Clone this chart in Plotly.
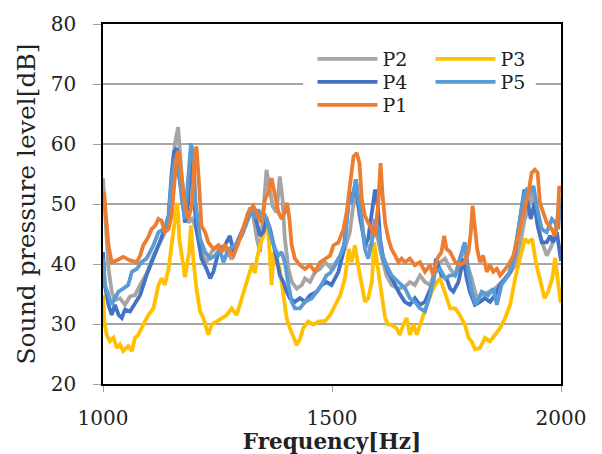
import plotly.graph_objects as go

# ---------------- data ----------------
freq_p2 = [1000, 1003, 1007, 1012, 1019, 1026, 1037, 1048, 1059, 1070, 1081, 1095, 1110, 1121, 1132, 1143,
           1150, 1157, 1164, 1172, 1179, 1186, 1194, 1201, 1212, 1219, 1226, 1237, 1252, 1266, 1281, 1296,
           1310, 1321, 1328, 1336, 1343, 1350, 1357, 1363, 1370, 1379, 1386, 1392, 1397, 1405, 1412, 1423,
           1434, 1441, 1452, 1463, 1474, 1485, 1499, 1514, 1528, 1539, 1547, 1554, 1561, 1572, 1583, 1592,
           1600, 1608, 1619, 1630, 1645, 1659, 1670, 1681, 1692, 1703, 1714, 1725, 1736, 1747, 1758, 1769,
           1779, 1787, 1794, 1805, 1816, 1827, 1841, 1856, 1870, 1885, 1900, 1910, 1921, 1929, 1936, 1943,
           1951, 1961, 1969, 1980, 1991, 1996, 2000]
spl_p2 = [54.3, 50.2, 44.7, 39.2, 35.4, 34.0, 34.3, 33.2, 34.6, 34.8, 36.5, 38.4, 41.4, 43.1, 44.7, 46.9,
          53.5, 60.1, 62.8, 54.6, 49.7, 46.9, 47.5, 46.4, 43.6, 41.4, 40.3, 42.0, 43.1, 42.5, 40.8, 43.6,
          46.4, 49.4, 48.0, 44.2, 42.0, 48.6, 55.7, 53.0, 49.7, 48.6, 54.6, 50.8, 44.2, 39.2, 37.0, 35.9,
          36.5, 37.6, 37.0, 38.7, 39.2, 40.3, 39.2, 40.9, 42.5, 45.3, 50.2, 51.3, 47.5, 43.6, 42.5, 45.8,
          44.2, 41.4, 38.1, 36.5, 35.9, 36.2, 37.0, 36.5, 38.1, 37.0, 36.5, 38.7, 40.3, 40.9, 39.2, 38.1,
          39.8, 43.1, 40.3, 37.6, 34.3, 34.8, 35.4, 35.9, 37.0, 38.1, 39.8, 43.1, 47.5, 49.1, 51.9, 48.6,
          45.8, 43.1, 41.4, 43.1, 46.9, 50.8, 51.0]

freq_p3 = [1000, 1003, 1008, 1015, 1023, 1030, 1037, 1044, 1055, 1063, 1070, 1077, 1088, 1099, 1110, 1121,
           1128, 1135, 1143, 1150, 1157, 1162, 1167, 1172, 1179, 1188, 1192, 1197, 1204, 1212, 1219, 1230,
           1237, 1248, 1259, 1270, 1281, 1292, 1303, 1314, 1325, 1332, 1336, 1343, 1350, 1357, 1363, 1368,
           1373, 1379, 1386, 1394, 1401, 1408, 1416, 1423, 1430, 1437, 1448, 1459, 1470, 1485, 1496, 1507,
           1518, 1528, 1537, 1543, 1550, 1557, 1565, 1572, 1579, 1587, 1592, 1600, 1608, 1616, 1623, 1630,
           1641, 1648, 1656, 1663, 1670, 1678, 1685, 1692, 1699, 1707, 1718, 1729, 1736, 1743, 1750, 1758,
           1769, 1779, 1790, 1798, 1805, 1812, 1823, 1834, 1845, 1856, 1867, 1878, 1889, 1900, 1910, 1921,
           1929, 1937, 1945, 1954, 1964, 1972, 1981, 1987, 1993, 1998, 2000]
spl_p3 = [34.8, 30.4, 28.2, 27.1, 27.7, 26.0, 26.6, 25.5, 26.3, 25.5, 27.7, 28.2, 29.9, 31.5, 32.6, 36.5,
          37.6, 36.5, 39.2, 43.6, 48.0, 50.2, 44.0, 41.4, 37.8, 42.0, 46.4, 40.9, 35.9, 32.1, 31.0, 28.2,
          29.9, 30.4, 31.0, 31.5, 32.6, 31.5, 34.3, 37.0, 39.8, 38.5, 40.9, 43.1, 44.7, 48.0, 43.1, 36.5,
          42.0, 40.9, 39.2, 34.8, 31.0, 29.3, 28.0, 26.5, 27.5, 29.3, 30.4, 29.9, 30.4, 30.5, 31.5, 33.2,
          34.8, 37.6, 42.5, 40.3, 43.1, 39.8, 36.5, 33.7, 34.3, 37.0, 43.6, 39.2, 34.3, 31.0, 29.9, 29.9,
          29.3, 28.2, 29.9, 31.0, 28.2, 29.9, 28.2, 29.9, 31.5, 33.2, 35.4, 37.0, 37.6, 35.9, 34.3, 32.6,
          32.6, 31.5, 29.9, 27.7, 27.1, 25.8, 26.0, 27.7, 27.1, 28.2, 29.3, 31.0, 33.2, 37.6, 40.9, 44.2,
          43.6, 44.2, 40.3, 37.6, 34.3, 35.4, 37.6, 41.0, 36.5, 34.3, 33.5]

freq_p4 = [1000, 1004, 1012, 1019, 1026, 1034, 1041, 1048, 1059, 1070, 1081, 1095, 1110, 1121, 1132, 1143,
           1150, 1155, 1161, 1164, 1172, 1179, 1186, 1192, 1197, 1204, 1215, 1226, 1234, 1241, 1252, 1266,
           1277, 1285, 1296, 1310, 1325, 1332, 1336, 1343, 1350, 1357, 1365, 1372, 1379, 1386, 1394, 1401,
           1408, 1419, 1430, 1441, 1452, 1467, 1477, 1488, 1499, 1514, 1525, 1532, 1539, 1547, 1552, 1557,
           1565, 1572, 1579, 1587, 1594, 1600, 1605, 1612, 1623, 1638, 1648, 1659, 1670, 1681, 1692, 1703,
           1714, 1721, 1727, 1732, 1739, 1750, 1758, 1765, 1776, 1787, 1794, 1801, 1812, 1823, 1834, 1845,
           1856, 1867, 1878, 1889, 1900, 1910, 1920, 1927, 1934, 1942, 1949, 1958, 1969, 1976, 1983, 1991,
           1996, 2000]
spl_p4 = [42.0, 36.5, 33.2, 31.5, 33.2, 31.5, 31.0, 32.4, 32.1, 33.5, 34.8, 38.1, 40.8, 43.1, 45.3, 48.0,
          55.2, 58.7, 59.3, 55.7, 51.9, 46.9, 50.2, 58.5, 53.0, 45.8, 40.9, 39.2, 37.6, 38.7, 42.0, 43.1,
          44.7, 42.0, 44.2, 46.4, 49.1, 48.0, 46.9, 44.7, 45.3, 47.5, 45.8, 43.6, 40.9, 38.1, 37.0, 35.4,
          34.3, 33.7, 34.3, 33.7, 34.8, 35.4, 36.5, 37.0, 36.5, 38.7, 42.0, 47.5, 51.9, 51.3, 54.1, 50.2,
          46.4, 43.1, 44.2, 48.6, 52.4, 49.7, 44.2, 40.9, 38.7, 36.5, 35.0, 33.7, 33.2, 34.3, 33.2, 33.7,
          35.9, 37.0, 40.9, 39.8, 38.1, 37.6, 35.9, 35.4, 37.0, 40.9, 37.6, 35.4, 33.2, 33.7, 34.3, 33.7,
          34.8, 36.5, 37.6, 38.7, 42.0, 47.5, 52.4, 50.2, 47.5, 50.2, 46.4, 43.6, 43.6, 44.7, 43.6, 45.3,
          42.0, 40.5]

freq_p5 = [1000, 1004, 1012, 1019, 1026, 1034, 1044, 1055, 1063, 1074, 1084, 1095, 1110, 1121, 1132, 1143,
           1150, 1157, 1164, 1172, 1179, 1186, 1192, 1197, 1202, 1212, 1223, 1234, 1245, 1255, 1263, 1274,
           1288, 1303, 1317, 1325, 1332, 1339, 1346, 1354, 1361, 1368, 1376, 1383, 1390, 1397, 1405, 1412,
           1419, 1430, 1441, 1456, 1467, 1477, 1488, 1496, 1507, 1518, 1528, 1536, 1543, 1552, 1557, 1565,
           1572, 1579, 1587, 1594, 1601, 1608, 1619, 1630, 1645, 1659, 1670, 1681, 1692, 1703, 1714, 1725,
           1736, 1747, 1758, 1769, 1779, 1790, 1798, 1805, 1814, 1827, 1841, 1852, 1860, 1870, 1885, 1896,
           1907, 1918, 1925, 1932, 1940, 1947, 1958, 1969, 1980, 1987, 1994, 1998, 2000]
spl_p5 = [40.9, 36.5, 34.8, 33.2, 34.3, 35.4, 35.9, 36.5, 38.7, 39.2, 40.3, 40.9, 43.1, 45.3, 45.8, 47.5,
          54.1, 57.5, 56.8, 50.8, 47.5, 54.1, 60.1, 58.5, 50.2, 44.2, 42.0, 40.9, 41.4, 42.5, 40.3, 42.5,
          43.1, 44.7, 47.5, 49.1, 47.5, 49.1, 47.5, 48.0, 46.4, 44.2, 42.5, 41.4, 42.0, 40.3, 36.5, 33.7,
          32.6, 32.6, 33.7, 34.3, 35.4, 36.5, 38.1, 38.5, 39.8, 41.4, 43.6, 50.2, 50.2, 54.1, 51.3, 47.5,
          42.5, 40.9, 43.6, 47.5, 45.8, 42.0, 39.8, 38.1, 37.0, 36.0, 34.3, 33.7, 32.6, 32.1, 34.8, 38.7,
          39.2, 37.6, 38.1, 38.1, 40.9, 43.6, 38.7, 35.4, 33.2, 35.4, 34.8, 35.9, 33.2, 36.5, 38.1, 40.9,
          45.8, 51.3, 52.4, 51.9, 53.0, 49.7, 45.8, 45.3, 47.5, 46.9, 45.8, 50.2, 49.0]

freq_p1 = [1000, 1002, 1007, 1012, 1019, 1030, 1044, 1059, 1074, 1081, 1088, 1099, 1106, 1114, 1121, 1128,
           1135, 1143, 1150, 1155, 1161, 1165, 1172, 1179, 1186, 1194, 1199, 1204, 1210, 1215, 1223, 1230,
           1241, 1252, 1259, 1266, 1277, 1285, 1296, 1306, 1317, 1328, 1339, 1346, 1354, 1361, 1368, 1376,
           1383, 1390, 1397, 1402, 1407, 1412, 1419, 1430, 1441, 1452, 1463, 1474, 1485, 1496, 1503, 1514,
           1525, 1532, 1539, 1547, 1554, 1560, 1565, 1572, 1579, 1587, 1594, 1601, 1606, 1610, 1616, 1623,
           1630, 1638, 1645, 1652, 1659, 1670, 1681, 1692, 1703, 1714, 1721, 1730, 1739, 1745, 1750, 1758,
           1769, 1779, 1790, 1798, 1803, 1807, 1812, 1817, 1823, 1830, 1838, 1845, 1852, 1860, 1867, 1874,
           1885, 1896, 1907, 1918, 1929, 1936, 1943, 1949, 1954, 1961, 1969, 1980, 1987, 1993, 1996, 2000]
spl_p1 = [51.0, 52.1, 47.5, 43.1, 40.3, 40.6, 41.2, 40.6, 40.3, 41.4, 43.1, 44.5, 45.8, 46.4, 47.5, 47.2,
          45.3, 45.8, 48.1, 53.0, 58.2, 58.8, 53.5, 49.7, 47.5, 49.7, 56.8, 59.6, 53.0, 46.4, 45.3, 43.6,
          42.5, 43.1, 42.0, 43.1, 42.0, 41.4, 43.6, 45.8, 48.6, 49.7, 48.0, 46.9, 50.8, 51.9, 54.3, 51.3,
          48.6, 47.5, 48.6, 50.2, 47.5, 43.1, 40.9, 39.8, 39.2, 39.8, 38.7, 40.3, 40.9, 41.4, 43.1, 43.6,
          45.8, 48.6, 53.0, 57.9, 58.5, 56.8, 50.8, 48.0, 46.9, 45.8, 44.7, 50.2, 56.8, 51.9, 46.9, 44.2,
          42.5, 41.4, 40.3, 40.9, 40.3, 40.9, 39.8, 40.3, 38.7, 39.8, 38.1, 40.9, 42.0, 44.7, 42.5, 42.0,
          40.3, 39.8, 40.3, 42.0, 45.3, 49.7, 45.3, 42.5, 40.3, 41.4, 38.7, 39.8, 38.7, 39.2, 38.1, 38.7,
          39.8, 41.4, 44.7, 48.6, 51.9, 55.2, 55.7, 55.2, 50.2, 48.6, 46.9, 45.8, 44.7, 46.9, 53.0, 52.0]

# (name, x, y, colour, legend row)
series = [
    ("P2", freq_p2, spl_p2, "#A5A5A5", "legend"),
    ("P3", freq_p3, spl_p3, "#FFC000", "legend"),
    ("P4", freq_p4, spl_p4, "#4472C4", "legend2"),
    ("P5", freq_p5, spl_p5, "#5B9BD5", "legend2"),
    ("P1", freq_p1, spl_p1, "#ED7D31", "legend3"),
]

x_ticks = [1000, 1500, 2000]
y_ticks = [20, 30, 40, 50, 60, 70, 80]

FONT = "DejaVu Serif"

fig = go.Figure()
for name, fx, fy, col, lg in series:
    fig.add_trace(go.Scatter(x=fx, y=fy, name=name, mode="lines",
                             line=dict(color=col, width=3.8), legend=lg))

legend_common = dict(bgcolor="rgba(255,255,255,0)", font=dict(family=FONT, size=19, color="#222"),
                     orientation="h", xanchor="left", yanchor="middle", itemwidth=60,
                     entrywidth=43, entrywidthmode="pixels", tracegroupgap=0, borderwidth=0,
                     x=(312.5 - 103) / 458)

fig.update_layout(
    width=602, height=454,
    margin=dict(l=103, r=41, t=24, b=70, autoexpand=False),
    paper_bgcolor="white", plot_bgcolor="white",
    font=dict(family=FONT, color="#222"),
    showlegend=True,
    legend=dict(y=(384 - 59) / 360, **legend_common),
    legend2=dict(y=(384 - 82) / 360, **legend_common),
    legend3=dict(y=(384 - 105) / 360, **legend_common),
    shapes=[dict(type="rect", xref="paper", yref="paper", x0=0.437, x1=0.945, y0=0.74, y1=0.94,
                 fillcolor="white", line=dict(width=0), layer="above")],
    xaxis=dict(range=[1000, 2000], tickvals=x_ticks, ticktext=[str(v) for v in x_ticks],
               automargin=False,
               showgrid=False, zeroline=False, showline=True, linecolor="black", linewidth=1.5,
               mirror=True, ticks="outside", ticklen=6, tickcolor="#A0A0A0", tickwidth=1.2,
               tickfont=dict(family=FONT, size=20, color="#222"), ticklabelstandoff=9,
               title=dict(text="<b>Frequency[Hz]</b>", font=dict(family=FONT, size=21.5, color="#222"),
                          standoff=3)),
    yaxis=dict(range=[20, 80], tickvals=y_ticks, showgrid=True, gridcolor="#A6A6A6", gridwidth=1.5,
               automargin=False,
               zeroline=False, showline=True, linecolor="black", linewidth=1.5, mirror=True,
               ticks="outside", ticklen=8, tickcolor="#A0A0A0", tickwidth=1.2,
               tickfont=dict(family=FONT, size=20, color="#222"), ticklabelstandoff=13,
               title=dict(text="Sound pressure level[dB]", font=dict(family=FONT, size=25, color="#222"),
                          standoff=8)),
)

fig.write_html("out.html", config={"displayModeBar": False},
               post_script="document.body.style.margin='0px';")
